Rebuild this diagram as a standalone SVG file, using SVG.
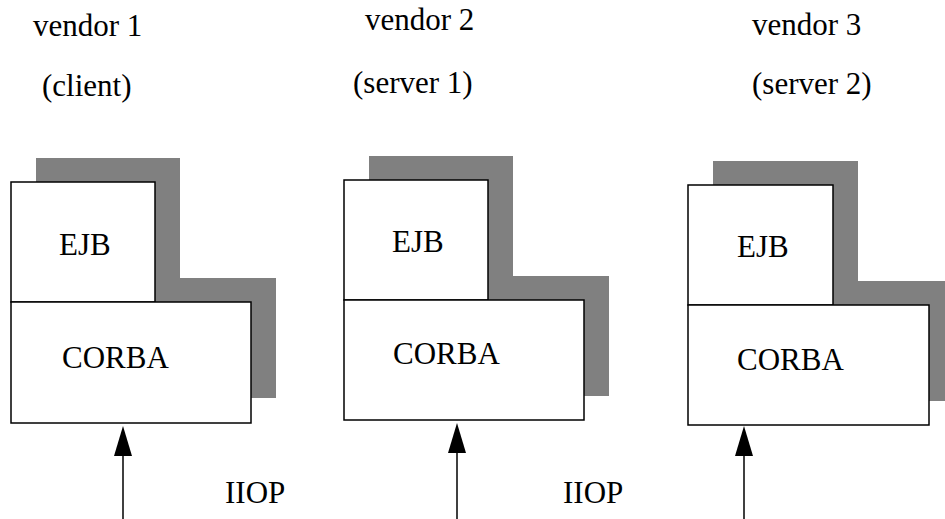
<svg xmlns="http://www.w3.org/2000/svg" width="945" height="519" viewBox="0 0 945 519">
<style>
text{font-family:"Liberation Serif","Times New Roman",serif;font-size:31px;fill:#000}
.box{fill:#fff;stroke:#000;stroke-width:1.5}
.shadow{fill:#808080;stroke:none}
.conn{stroke:#000;stroke-width:1.5;fill:none}
</style>
<defs>
<marker id="arrow" markerUnits="userSpaceOnUse" markerWidth="30" markerHeight="18" refX="0" refY="9" orient="auto" overflow="visible">
<path d="M0,0 L30,9 L0,18 z" fill="#000"/>
</marker>
</defs>
<g id="labels">
<text x="33" y="36">vendor 1</text>
<text x="42" y="96">(client)</text>
<text x="365" y="30">vendor 2</text>
<text x="353" y="93">(server 1)</text>
<text x="752" y="35">vendor 3</text>
<text x="752" y="94">(server 2)</text>
<text x="225" y="503">IIOP</text>
<text x="563" y="503">IIOP</text>
</g>
<g id="vendor1">
<rect class="shadow" x="36" y="158" width="144" height="120"/>
<rect class="shadow" x="36" y="278" width="240" height="120"/>
<g id="v1-ejb"><rect class="box" x="11" y="182" width="144" height="120"/><text x="59" y="255">EJB</text></g>
<g id="v1-corba"><rect class="box" x="11" y="302" width="240" height="121"/><text x="62" y="368">CORBA</text></g>
</g>
<g id="vendor2">
<rect class="shadow" x="369" y="156" width="144" height="120"/>
<rect class="shadow" x="369" y="276" width="240" height="120"/>
<g id="v2-ejb"><rect class="box" x="344" y="180" width="144" height="120"/><text x="392" y="252">EJB</text></g>
<g id="v2-corba"><rect class="box" x="344" y="300" width="240" height="120"/><text x="393" y="364">CORBA</text></g>
</g>
<g id="vendor3">
<rect class="shadow" x="713" y="161" width="145" height="120"/>
<rect class="shadow" x="713" y="281" width="241" height="120"/>
<g id="v3-ejb"><rect class="box" x="688" y="185" width="145" height="120"/><text x="737" y="257">EJB</text></g>
<g id="v3-corba"><rect class="box" x="688" y="305" width="241" height="120"/><text x="737" y="370">CORBA</text></g>
</g>
<g id="connectors">
<line class="conn" x1="123" y1="520" x2="123" y2="456" marker-end="url(#arrow)"/>
<line class="conn" x1="457" y1="520" x2="457" y2="453" marker-end="url(#arrow)"/>
<line class="conn" x1="744" y1="520" x2="744" y2="456" marker-end="url(#arrow)"/>
</g>
</svg>
